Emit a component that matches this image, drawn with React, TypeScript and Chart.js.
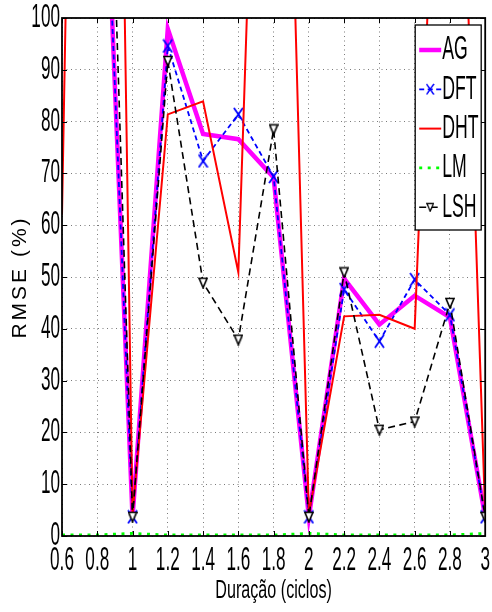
import React, { useEffect, useRef } from 'react';
import { Chart, registerables } from 'chart.js';

Chart.register(...registerables);

// ---- data ----
const xValues = [0.6, 0.8, 1.0, 1.2, 1.4, 1.6, 1.8, 2.0, 2.2, 2.4, 2.6, 2.8, 3.0];
const xTicks = [0.6, 0.8, 1, 1.2, 1.4, 1.6, 1.8, 2, 2.2, 2.4, 2.6, 2.8, 3];
const yTicks = [0, 10, 20, 30, 40, 50, 60, 70, 80, 90, 100];
const seriesNames = ['AG', 'DFT', 'DHT', 'LM', 'LSH'];
const agValues = [null, 170, 3.7, 97.9, 77.6, 76.6, 69.2, 3.7, 49.7, 40.8, 46.4, 42.2, 3.7];
const dftValues = [null, 170, 3.7, 94.6, 72.4, 81.4, 69.4, 3.7, 47.6, 37.6, 49.5, 42.7, 3.7];
const dhtValues = [62, 440, 4.2, 81.4, 83.9, 50.9, 255, 4.2, 42.4, 42.7, 40.0, 207, 4.0];
const lmValues = [0.2, 0.2, 0.5, 0.2, 0.2, 0.2, 0.2, 0.5, 0.2, 0.2, 0.2, 0.2, 0.5];
const lshValues = [null, 215, 3.7, 91.7, 48.9, 37.9, 78.5, 3.7, 50.9, 20.5, 22.1, 45.0, 3.7];
const xTitle = 'Duração (ciclos)';
const yTitle = 'RMSE (%)';

// ---- text helper: narrow (horizontally squeezed) text like the original figure ----
function patchCtx(ctx: any) {
  if (ctx.__sq) return;
  ctx.__sq = true;
  const orig = ctx.fillText;
  ctx.fillText = function (text: string, x: number, y: number, maxWidth?: number) {
    const font: string = this.font || '';
    const m = /Sq(\d+)/.exec(font);
    const ls = /Ls(\d+)/.exec(font);
    if (!m && !ls) {
      return maxWidth === undefined ? orig.call(this, text, x, y) : orig.call(this, text, x, y, maxWidth);
    }
    this.save();
    if (ls) (this as any).letterSpacing = ls[1] + 'px';
    if (m) {
      const f = parseInt(m[1], 10) / 100;
      this.translate(x, y);
      this.scale(f, 1);
      if (maxWidth === undefined) orig.call(this, text, 0, 0);
      else orig.call(this, text, 0, 0, maxWidth / f);
    } else {
      if (maxWidth === undefined) orig.call(this, text, x, y);
      else orig.call(this, text, x, y, maxWidth);
    }
    this.restore();
  };
}

function makeCross(): HTMLCanvasElement {
  const c = document.createElement('canvas');
  c.width = 11;
  c.height = 15;
  const g = c.getContext('2d')!;
  g.strokeStyle = '#0000ff';
  g.lineWidth = 1.8;
  g.beginPath();
  g.moveTo(1, 1);
  g.lineTo(10, 14);
  g.moveTo(10, 1);
  g.lineTo(1, 14);
  g.stroke();
  return c;
}

function makeTri(): HTMLCanvasElement {
  const c = document.createElement('canvas');
  c.width = 10;
  c.height = 12;
  const g = c.getContext('2d')!;
  g.beginPath();
  g.moveTo(1, 1.5);
  g.lineTo(9, 1.5);
  g.lineTo(5, 11);
  g.closePath();
  g.fillStyle = '#ffffff';
  g.fill();
  g.strokeStyle = '#000000';
  g.lineWidth = 1.6;
  g.stroke();
  return c;
}

const NARROW = "Sq52, 'Liberation Sans', Arial, sans-serif";

const framePlugin = {
  id: 'frameTicks',
  afterDatasetsDraw(chart: any) {
    const { ctx, chartArea: a, scales } = chart;
    ctx.save();
    ctx.strokeStyle = '#000';
    ctx.lineWidth = 1;
    ctx.beginPath();
    xTicks.forEach((v) => {
      const px = Math.round(scales.x.getPixelForValue(v)) + 0.5;
      ctx.moveTo(px, a.bottom);
      ctx.lineTo(px, a.bottom - 5);
      ctx.moveTo(px, a.top);
      ctx.lineTo(px, a.top + 5);
    });
    yTicks.forEach((v) => {
      const py = Math.round(scales.y.getPixelForValue(v)) + 0.5;
      ctx.moveTo(a.left, py);
      ctx.lineTo(a.left + 5, py);
      ctx.moveTo(a.right, py);
      ctx.lineTo(a.right - 5, py);
    });
    ctx.stroke();
    ctx.lineWidth = 1.8;
    ctx.strokeRect(a.left, a.top, a.right - a.left, a.bottom - a.top);
    ctx.restore();
  },
};

const legendPlugin = {
  id: 'boxLegend',
  afterDatasetsDraw(chart: any) {
    const { ctx, chartArea } = chart;
    const right = chartArea.right - 4;
    const left = right - 66;
    const top = chartArea.top + 7;
    const bottom = top + 205;
    ctx.save();
    ctx.fillStyle = '#fff';
    ctx.fillRect(left, top, right - left, bottom - top);
    ctx.strokeStyle = '#000';
    ctx.lineWidth = 1.3;
    ctx.strokeRect(left, top, right - left, bottom - top);
    chart.data.datasets.forEach((ds: any, i: number) => {
      const cy = top + 25 + i * 39.3;
      ctx.save();
      ctx.strokeStyle = ds.borderColor;
      ctx.lineWidth = ds.borderWidth;
      ctx.setLineDash(ds.borderDash || []);
      ctx.beginPath();
      ctx.moveTo(left + 4, cy);
      ctx.lineTo(left + 26, cy);
      ctx.stroke();
      ctx.restore();
      const img = ds.pointStyle;
      if (img && typeof img === 'object' && (img as any).width) {
        const w = img.width * 0.8;
        const h = img.height * 0.8;
        ctx.drawImage(img, left + 15 - w / 2, cy - h / 2, w, h);
      }
      ctx.fillStyle = '#000';
      ctx.font = '34px ' + NARROW;
      ctx.textAlign = 'left';
      ctx.textBaseline = 'middle';
      ctx.fillText(ds.label, left + 27, cy);
    });
    ctx.restore();
  },
};

function pts(vals: (number | null)[]) {
  return vals.map((v, i) => ({ x: xValues[i], y: v }));
}

function fmt(v: number) {
  return String(Math.round(v * 10) / 10);
}

export default function App() {
  const ref = useRef<HTMLCanvasElement>(null);
  useEffect(() => {
    const canvas = ref.current!;
    const ctx = canvas.getContext('2d')!;
    patchCtx(ctx);
    const cross = makeCross();
    const tri = makeTri();
    const chart = new Chart(ctx as any, {
      type: 'line',
      data: {
        datasets: [
          {
            label: seriesNames[0],
            data: pts(agValues) as any,
            borderColor: '#ff00ff',
            backgroundColor: '#ff00ff',
            borderWidth: 4.5,
            pointRadius: 0,
            order: 5,
          },
          {
            label: seriesNames[1],
            data: pts(dftValues) as any,
            borderColor: '#0000ff',
            backgroundColor: '#0000ff',
            borderWidth: 1.8,
            borderDash: [5, 3.5],
            pointStyle: cross as any,
            pointRadius: 5,
            order: 4,
          },
          {
            label: seriesNames[2],
            data: pts(dhtValues) as any,
            borderColor: '#ff0000',
            backgroundColor: '#ff0000',
            borderWidth: 2,
            pointRadius: 0,
            order: 3,
          },
          {
            label: seriesNames[3],
            data: pts(lmValues) as any,
            borderColor: '#00ff00',
            backgroundColor: '#00ff00',
            borderWidth: 2.8,
            borderDash: [3, 5.5],
            pointRadius: 0,
            order: 2,
          },
          {
            label: seriesNames[4],
            data: pts(lshValues) as any,
            borderColor: '#000000',
            backgroundColor: '#000000',
            borderWidth: 1.6,
            borderDash: [7, 4.5],
            pointStyle: tri as any,
            pointRadius: 5,
            order: 1,
          },
        ] as any,
      },
      options: {
        animation: false,
        responsive: false,
        devicePixelRatio: 1,
        layout: { padding: { top: 18, right: 6, left: 0, bottom: 0 } },
        elements: { line: { tension: 0 } },
        datasets: { line: { clip: 0 as any } } as any,
        plugins: {
          legend: { display: false },
          tooltip: { enabled: false },
        },
        scales: {
          x: {
            type: 'linear',
            min: 0.6,
            max: 3,
            afterBuildTicks: (s: any) => {
              s.ticks = xTicks.map((v) => ({ value: v }));
            },
            afterFit: (s: any) => {
              s.height = 76;
              s.paddingLeft = 0;
              s.paddingRight = 0;
            },
            ticks: {
              autoSkip: false,
              maxRotation: 0,
              minRotation: 0,
              padding: 5,
              color: '#000',
              font: { family: NARROW, size: 33 },
              callback: (v: any) => fmt(Number(v)),
            },
            grid: { color: '#7a7a7a', lineWidth: 1, drawTicks: false },
            border: { display: false, dash: [1, 3.5] },
            title: {
              display: true,
              text: xTitle,
              color: '#000',
              font: { family: "Sq62, 'Liberation Sans', Arial, sans-serif", size: 26 },
              padding: { top: 0, bottom: 6 },
            },
          },
          y: {
            type: 'linear',
            min: 0,
            max: 100,
            afterBuildTicks: (s: any) => {
              s.ticks = yTicks.map((v) => ({ value: v }));
            },
            afterFit: (s: any) => {
              s.width = 62;
              s.paddingTop = 0;
              s.paddingBottom = 0;
            },
            ticks: {
              autoSkip: false,
              padding: 2,
              color: '#000',
              font: { family: NARROW, size: 33 },
              callback: (v: any) => fmt(Number(v)),
            },
            grid: { color: '#7a7a7a', lineWidth: 1, drawTicks: false },
            border: { display: false, dash: [1, 3.5] },
            title: {
              display: true,
              text: yTitle,
              color: '#000',
              font: { family: "Ls3, 'Liberation Sans', Arial, sans-serif", size: 21 },
              padding: { top: 8, bottom: 0 },
            },
          },
        },
      } as any,
      plugins: [framePlugin, legendPlugin],
    });
    return () => chart.destroy();
  }, []);
  return (
    <div style={{ position: 'fixed', left: 0, top: 0, width: 492, height: 612, background: '#fff' }}>
      <canvas ref={ref} width={492} height={612} style={{ display: 'block', width: 492, height: 612 }} />
    </div>
  );
}
